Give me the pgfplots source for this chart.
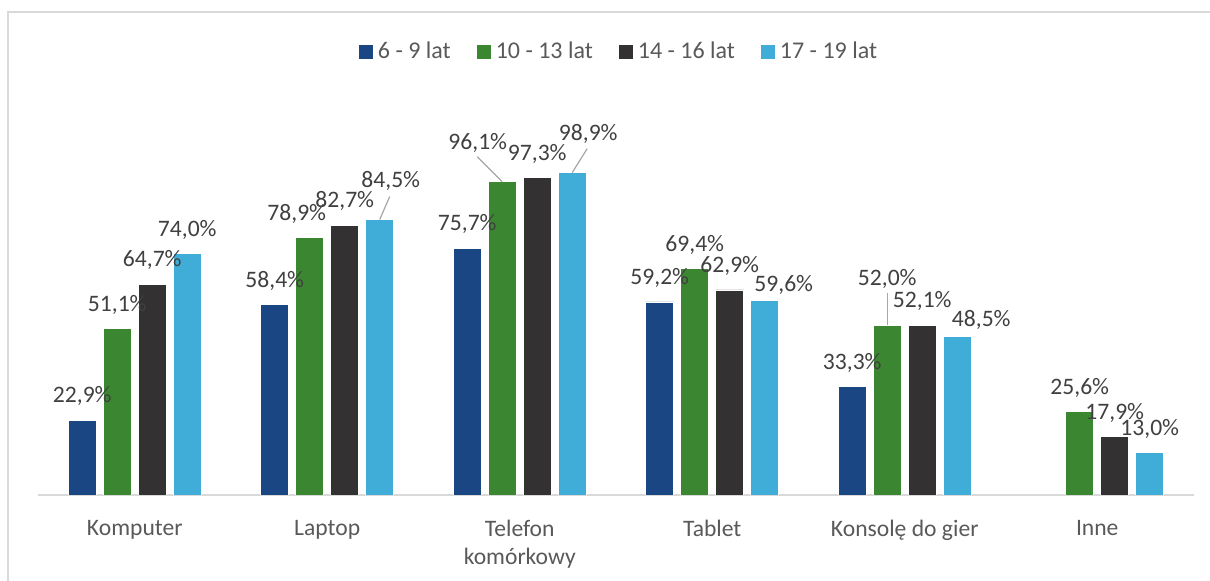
\documentclass[border=0pt]{standalone}
\usepackage{pgfplots}
\pgfplotsset{compat=1.18}
\usepackage{pgfplotstable}
\usepackage{fontspec}
\setmainfont{Carlito}

\definecolor{cA}{HTML}{1A4784}
\definecolor{cB}{HTML}{3B8631}
\definecolor{cC}{HTML}{333132}
\definecolor{cD}{HTML}{40ADD8}
\definecolor{labgray}{HTML}{404040}
\definecolor{catgray}{HTML}{595959}
\definecolor{linegray}{HTML}{D9D9D9}
\definecolor{leadgray}{HTML}{A6A6A6}

% x = category, y = percent, dx/dy = label offset (pt)
\pgfplotstableread{
x y dx dy
0 22.9 0 0
1 58.4 0 0
2 75.7 0 0
3 59.2 0 0
4 33.3 0 0
}\seriesA
\pgfplotstableread{
x y dx dy
0 51.1 0 0
1 78.9 -6.5 0
2 96.1 -12.25 7.5
3 69.4 0 0
4 52.0 0 11.5
5 25.6 0 0
}\seriesB
\pgfplotstableread{
x y dx dy
0 64.7 0 0
1 82.7 0 0
2 97.3 0 0
3 62.9 0 0
4 52.1 0 0
5 17.9 0 0
}\seriesC
\pgfplotstableread{
x y dx dy
0 74.0 0 0
1 84.5 5.5 7.5
2 98.9 8 7.5
3 59.6 9.5 -4
4 48.5 12 -3.5
5 13.0 0 0
}\seriesD

\newcommand\chartfont{\fontsize{11.8}{14}\selectfont}

\pgfplotsset{
  bars/.style 2 args={ybar, bar width=14pt, bar shift=#2, fill=#1, draw=white, line width=0.4pt,
    visualization depends on={\thisrow{dx} \as \labdx},
    visualization depends on={\thisrow{dy} \as \labdy},
    nodes near coords={\pgfmathprintnumber[fixed, fixed zerofill, precision=1, use comma]{\pgfplotspointmeta}\%},
    every node near coord/.append style={font=\chartfont, text=labgray, anchor=base,
        xshift=#2, yshift=8.7pt, xshift=\labdx pt, yshift=\labdy pt}},
  leader/.style={forget plot, leadgray, line width=0.6pt, no markers},
}

\begin{document}
\begin{tikzpicture}
\useasboundingbox (0,0) rectangle (605pt,290.5pt);
\begin{axis}[
    at={(19.25pt,43pt)}, anchor=south west,
    scale only axis,
    width=577.5pt, height=195.6pt,
    xmin=-0.5, xmax=5.5,
    ymin=0, ymax=120,
    axis x line*=bottom,
    axis y line=none,
    x axis line style={linegray, line width=0.8pt, -},
    xtick={0,...,5},
    major tick length=0pt,
    xticklabels={Komputer, Laptop, {Telefon\\komórkowy}, Tablet, {Konsolę do gier}, Inne},
    xticklabel style={font=\chartfont, text=catgray, align=center, yshift=-9pt},
    /pgf/number format/assume math mode=true,
    legend style={at={(0.5035,1.1324)}, anchor=center, draw=none, fill=none,
        legend columns=-1, font=\fontsize{12}{14}\selectfont, text=catgray,
        /tikz/every even column/.append style={column sep=11pt},
        /tikz/every odd column/.append style={column sep=0.5pt}},
    legend image code/.code={\fill[#1, draw=none] (0pt,-3.5pt) rectangle (7pt,3.5pt);},
]
\addplot[bars={cA}{-26.25pt}] table[x=x, y=y] {\seriesA};
\addplot[bars={cB}{-8.75pt}] table[x=x, y=y] {\seriesB};
\addplot[bars={cC}{8.75pt}] table[x=x, y=y] {\seriesC};
\addplot[bars={cD}{26.25pt}] table[x=x, y=y] {\seriesD};
\legend{6 - 9 lat, 10 - 13 lat, 14 - 16 lat, 17 - 19 lat}
% leader lines of moved labels
\addplot[leader] coordinates {(1.2726,84.5) (1.3245,91.56)};
\addplot[leader] coordinates {(1.9091,96.1) (1.7793,103.77)};
\addplot[leader] coordinates {(2.2726,98.9) (2.3505,106.26)};
\addplot[leader] coordinates {(3.9091,52.0) (3.9091,61.82)};
\end{axis}
\draw[linegray, line width=1pt] (4pt,0pt) -- (4pt,284.5pt) -- (605pt,284.5pt);
\end{tikzpicture}
\end{document}
